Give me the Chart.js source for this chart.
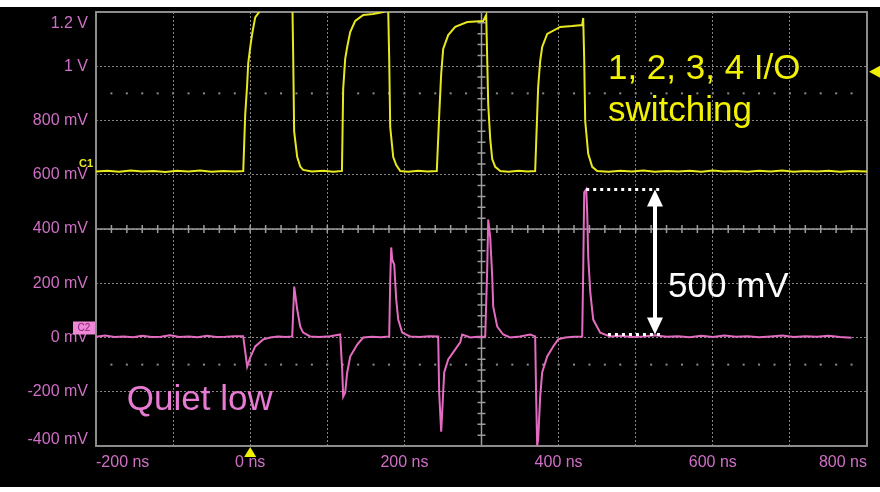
<!DOCTYPE html>
<html>
<head>
<meta charset="utf-8">
<script src="https://cdn.jsdelivr.net/npm/chart.js@4.4.1/dist/chart.umd.min.js"></script>
<style>
  html, body { margin: 0; padding: 0; background: #fff; }
  #wrap { position: absolute; left: 0; top: 7px; width: 880px; height: 480px; background: #000; }
</style>
</head>
<body>
<div id="wrap"><canvas id="scope"></canvas></div>
<script>
// time axis (ns) and voltage axis (V)
const xMin = -200, xMax = 800, xStep = 100;
const yMin = -0.4, yMax = 1.2, yStep = 0.2;

// C1 - yellow, the 4 switching I/O (V)
const c1Time = [-200, -185, -170, -155, -140, -125, -110, -95, -80, -65, -50, -35, -20, -9,
  -6.5, -4, -2.6, 0, 2.6, 6.5, 13, 22, 32, 45, 54.5, 55.8, 57, 61, 64.9, 68.7,
  80, 95, 108, 119,
  120.6, 123.2, 125.8, 129.7, 136.2, 146.6, 159.5, 172.5, 179, 180.3, 181.6, 185.5, 189.4, 194.6,
  205, 218, 230, 242,
  245.1, 247.7, 250.3, 256.8, 265.9, 281.5, 302.2, 306.1, 307.4, 308.7, 311.3, 313.9, 317.8, 324.3,
  335, 348, 360, 369.6,
  373.5, 376.1, 378.7, 385.2, 402.1, 417.6, 430.6, 431.9, 433.2, 434.5, 438.4, 443.6, 450.1,
  465, 480, 495, 510, 525, 540, 555, 570, 585, 600, 615, 630, 645, 660, 675, 690, 705, 720, 735, 750, 765, 780, 800];
const c1Volt = [0.612, 0.615, 0.611, 0.616, 0.612, 0.614, 0.610, 0.615, 0.612, 0.616, 0.611, 0.614, 0.612, 0.614,
  0.82, 0.93, 1.01, 1.07, 1.12, 1.18, 1.205, 1.22, 1.24, 1.26, 1.27, 1.03, 0.76, 0.665, 0.63, 0.618,
  0.612, 0.615, 0.611, 0.614,
  0.916, 1.027, 1.071, 1.126, 1.167, 1.189, 1.193, 1.2, 1.207, 1.027, 0.776, 0.665, 0.636, 0.614,
  0.611, 0.615, 0.612, 0.614,
  0.817, 0.971, 1.064, 1.115, 1.145, 1.163, 1.167, 1.189, 1.027, 0.861, 0.732, 0.658, 0.629, 0.614,
  0.611, 0.615, 0.612, 0.614,
  0.924, 1.019, 1.071, 1.119, 1.145, 1.148, 1.152, 1.178, 1.027, 0.798, 0.677, 0.629, 0.614,
  0.611, 0.615, 0.612, 0.616, 0.611, 0.614, 0.612, 0.615, 0.611, 0.616, 0.612, 0.614, 0.611, 0.615,
  0.612, 0.616, 0.611, 0.614, 0.612, 0.615, 0.611, 0.614, 0.612];

// C2 - pink, the quiet low line (V)
const c2Time = [-200, -188, -176, -164, -152, -140, -128, -116, -104, -92, -80, -68, -56, -44, -32, -20, -9.1,
  -3.9, 0, 6.5, 16.9, 25.9, 36, 46, 54.5,
  57.1, 61, 64.9, 68.7, 77.8, 90, 104, 116.7,
  119.3, 120.6, 123.2, 125.8, 129.7, 138.8, 146.6, 158, 170, 180.3,
  181.6, 182.9, 184.2, 186.8, 189.4, 192, 197.1, 207.5, 220, 232, 243.8,
  245.1, 247.7, 249, 250.3, 251.6, 256.8, 263.3, 272.4, 275, 285.3, 295, 304.8,
  307.4, 308.7, 311.3, 313.9, 315.2, 320.4, 328.1, 337.2, 350, 363.2, 369.6,
  370.9, 372.2, 373.5, 376.1, 378.7, 385.2, 393, 399.5, 408.6, 420, 430.6,
  431.9, 433.2, 435.8, 437.1, 438.4, 441.1, 444.9, 454, 466.9,
  480, 495, 510, 525, 540, 555, 570, 585, 600, 615, 630, 645, 660, 675, 690, 705, 720, 735, 750, 765, 780, 800];
const c2Volt = [0.003, 0.007, 0.002, 0.004, 0.001, 0.006, 0.002, 0.003, 0.008, 0.002, 0.004, 0.001, 0.006, 0.002, 0.003, 0.005, 0.005,
  -0.107, -0.074, -0.033, -0.007, 0.0, 0.004, 0.002, 0.004,
  0.188, 0.103, 0.04, 0.018, 0.004, 0.002, 0.005, 0.011,
  -0.118, -0.218, -0.203, -0.129, -0.07, -0.026, 0.0, 0.003, 0.001, 0.004,
  0.21, 0.332, 0.287, 0.269, 0.14, 0.066, 0.018, 0.004, 0.002, 0.005, 0.004,
  -0.203, -0.347, -0.277, -0.203, -0.129, -0.081, -0.055, -0.018, 0.011, 0.0, 0.003, 0.004,
  0.251, 0.435, 0.369, 0.225, 0.114, 0.04, 0.011, 0.0, 0.004, 0.011, 0.004,
  -0.218, -0.40, -0.376, -0.218, -0.129, -0.07, -0.033, -0.007, 0.0, 0.003, 0.004,
  0.24, 0.535, 0.546, 0.461, 0.299, 0.166, 0.066, 0.018, 0.004,
  0.006, 0.002, 0.004, 0.008, 0.003, 0.005, 0.001, 0.006, 0.002, 0.007, 0.003, 0.005, 0.001, 0.004,
  0.007, 0.002, 0.005, 0.003, 0.006, 0.002, -0.001];

// markers / annotations (data units)
const centerTime = 300, centerVolt = 0.4;
const dotRows = [0.9, -0.1];
const c1Offset = 0.6, c2Offset = 0;
const triggerTime = 0, triggerLevel = 0.98;
const spanPeakTime = 435.8, spanArrowTime = 525, spanEndTime = 534, spanBaseStart = 464;
const spanTop = 0.546, spanBottom = 0.011;

const labelColor = '#cf6fc6';
const fontFamily = '"Liberation Sans", Arial, sans-serif';

function fmtVolt(v) {
  const mv = Math.round(v * 1000);
  return Math.abs(mv) >= 1000 ? (mv / 1000) + ' V' : mv + ' mV';
}

// no extra room for the edge labels, the plot fills the frame
function noEdgePadding(s) {
  s.paddingTop = 0;
  s.paddingBottom = 0;
  s.paddingLeft = 0;
  s.paddingRight = 0;
}

const scopeDecor = {
  id: 'scopeDecor',
  beforeDatasetsDraw(chart) {
    const {ctx, chartArea: a, scales: {x, y}} = chart;
    ctx.save();
    // sparse dot rows
    ctx.fillStyle = '#8a8a8a';
    for (const v of dotRows) {
      const py = y.getPixelForValue(v);
      for (let t = xMin; t <= xMax; t += 20) {
        ctx.fillRect(x.getPixelForValue(t) - 1, py - 1, 2, 2);
      }
    }
    // center cross with minor ticks
    const cx = x.getPixelForValue(centerTime), cy = y.getPixelForValue(centerVolt);
    ctx.strokeStyle = '#9c9c9c';
    ctx.lineWidth = 1.5;
    ctx.beginPath();
    ctx.moveTo(a.left, cy); ctx.lineTo(a.right, cy);
    ctx.moveTo(cx, a.top); ctx.lineTo(cx, a.bottom);
    for (let t = xMin; t <= xMax; t += 20) {
      const px = x.getPixelForValue(t);
      ctx.moveTo(px, cy - 4); ctx.lineTo(px, cy + 4);
    }
    for (let v = yMin; v <= yMax + 1e-9; v += 0.04) {
      const py = y.getPixelForValue(v);
      ctx.moveTo(cx - 4, py); ctx.lineTo(cx + 4, py);
    }
    ctx.stroke();
    // frame
    ctx.strokeStyle = '#8c8c8c';
    ctx.lineWidth = 2;
    ctx.strokeRect(a.left, a.top, a.right - a.left, a.bottom - a.top);
    ctx.restore();
  },
  afterDraw(chart) {
    const {ctx, chartArea: a, scales: {x, y}} = chart;
    ctx.save();

    // big captions
    ctx.font = '35px ' + fontFamily;
    ctx.textAlign = 'left';
    ctx.textBaseline = 'alphabetic';
    ctx.fillStyle = '#f2f200';
    ctx.fillText('1, 2, 3, 4 I/O', x.getPixelForValue(464), y.getPixelForValue(0.953));
    ctx.fillText('switching', x.getPixelForValue(464), y.getPixelForValue(0.798));
    ctx.fillStyle = '#e77ad3';
    ctx.fillText('Quiet low', x.getPixelForValue(-160), y.getPixelForValue(-0.267));
    ctx.fillStyle = '#ffffff';
    ctx.fillText('500 mV', x.getPixelForValue(542), y.getPixelForValue(0.149));

    // 500 mV span: dotted guides and double arrow
    const top = y.getPixelForValue(spanTop), bot = y.getPixelForValue(spanBottom);
    const ax = x.getPixelForValue(spanArrowTime);
    ctx.strokeStyle = '#ffffff';
    ctx.lineWidth = 3;
    ctx.setLineDash([3, 4]);
    ctx.beginPath();
    ctx.moveTo(x.getPixelForValue(spanPeakTime), top); ctx.lineTo(x.getPixelForValue(spanEndTime), top);
    ctx.moveTo(x.getPixelForValue(spanBaseStart), bot); ctx.lineTo(x.getPixelForValue(spanEndTime), bot);
    ctx.stroke();
    ctx.setLineDash([]);
    ctx.lineWidth = 4;
    ctx.beginPath();
    ctx.moveTo(ax, top + 12); ctx.lineTo(ax, bot - 12);
    ctx.stroke();
    ctx.fillStyle = '#ffffff';
    ctx.beginPath();
    ctx.moveTo(ax, top); ctx.lineTo(ax - 8, top + 17); ctx.lineTo(ax + 8, top + 17); ctx.closePath();
    ctx.moveTo(ax, bot); ctx.lineTo(ax - 8, bot - 17); ctx.lineTo(ax + 8, bot - 17); ctx.closePath();
    ctx.fill();

    // channel markers
    ctx.font = 'bold 11px ' + fontFamily;
    ctx.textAlign = 'right';
    ctx.textBaseline = 'middle';
    ctx.fillStyle = '#e8e81e';
    ctx.fillText('C1', a.left - 3, y.getPixelForValue(c1Offset) - 11);
    const c2y = y.getPixelForValue(c2Offset);
    ctx.fillStyle = '#ef88d6';
    ctx.fillRect(a.left - 23, c2y - 16, 22, 13);
    ctx.fillStyle = '#8a1f78';
    ctx.textAlign = 'center';
    ctx.font = '10px ' + fontFamily;
    ctx.fillText('C2', a.left - 12, c2y - 9);

    // trigger markers
    ctx.fillStyle = '#f0f000';
    const tx = x.getPixelForValue(triggerTime);
    ctx.beginPath();
    ctx.moveTo(tx, a.bottom + 1); ctx.lineTo(tx - 6, a.bottom + 11); ctx.lineTo(tx + 6, a.bottom + 11); ctx.closePath();
    ctx.fill();
    const ty = y.getPixelForValue(triggerLevel);
    ctx.beginPath();
    ctx.moveTo(a.right + 2, ty); ctx.lineTo(a.right + 13, ty - 6); ctx.lineTo(a.right + 13, ty + 6); ctx.closePath();
    ctx.fill();

    ctx.restore();
  }
};

document.addEventListener('DOMContentLoaded', () => {
  const ctx = document.getElementById('scope');

  new Chart(ctx, {
    type: 'line',
    data: {
      datasets: [
        {
          label: 'C1',
          data: c1Time.map((t, i) => ({x: t, y: c1Volt[i]})),
          borderColor: '#e8e81e',
          borderWidth: 2,
          pointRadius: 0,
          tension: 0
        },
        {
          label: 'C2',
          data: c2Time.map((t, i) => ({x: t, y: c2Volt[i]})),
          borderColor: '#e46cc0',
          borderWidth: 2,
          pointRadius: 0,
          tension: 0
        }
      ]
    },
    options: {
      responsive: true,
      maintainAspectRatio: false,
      animation: false,
      layout: { padding: { top: 5, right: 13, left: 0, bottom: 0 } },
      plugins: {
        legend: { display: false },
        tooltip: { enabled: false }
      },
      scales: {
        x: {
          type: 'linear',
          min: xMin,
          max: xMax,
          afterFit: s => { s.height = 41; noEdgePadding(s); },
          grid: { color: '#858585', lineWidth: 1, drawTicks: false },
          border: { display: false, dash: [2, 2] },
          ticks: {
            stepSize: xStep,
            autoSkip: false,
            maxRotation: 0,
            align: 'inner',
            padding: 7,
            color: labelColor,
            font: { family: fontFamily, size: 16 },
            callback: v => (v % 200 === 0 ? v + ' ns' : '')
          }
        },
        y: {
          min: yMin,
          max: yMax,
          afterFit: s => { s.width = 96; noEdgePadding(s); },
          grid: { color: '#858585', lineWidth: 1, drawTicks: false },
          border: { display: false, dash: [2, 2] },
          ticks: {
            stepSize: yStep,
            autoSkip: false,
            padding: 8,
            color: labelColor,
            font: c => {
              let lh = 1.2;
              if (c.tick && Math.abs(c.tick.value - yMax) < 1e-6) lh = '24px';
              if (c.tick && Math.abs(c.tick.value - yMin) < 1e-6) lh = '12px';
              return { family: fontFamily, size: 16, lineHeight: lh };
            },
            callback: (v, i, ticks) => {
              const s = fmtVolt(v);
              if (i === ticks.length - 1) return ['', s];
              if (i === 0) return [s, ''];
              return s;
            }
          }
        }
      }
    },
    plugins: [scopeDecor]
  });
});
</script>
</body>
</html>
